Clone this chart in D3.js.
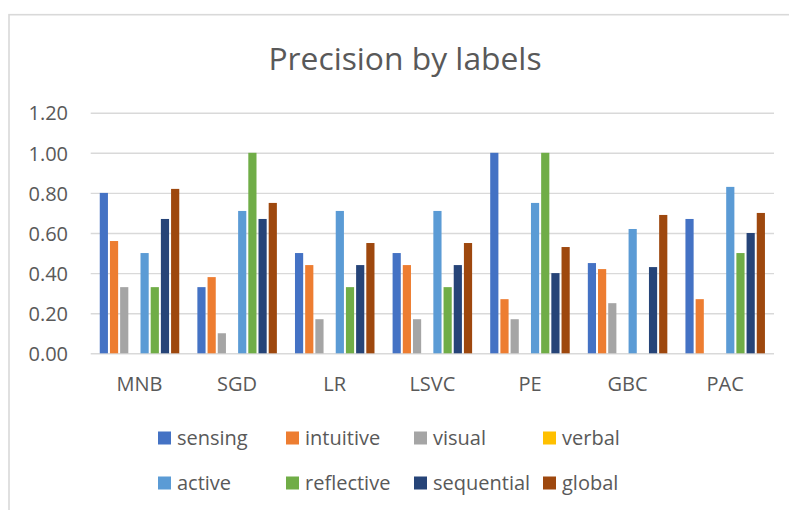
<!DOCTYPE html>
<html>
<head>
<meta charset="utf-8">
<script src="https://cdn.jsdelivr.net/npm/d3@7"></script>
<style>
  html, body { margin: 0; padding: 0; background: #fff; }
  svg { display: block; font-family: "Open Sans", "DejaVu Sans", sans-serif; }
</style>
</head>
<body>
<svg id="chart" width="789" height="510"></svg>
<script>
// Classifiers along the x axis
const models = ["MNB", "SGD", "LR", "LSVC", "PE", "GBC", "PAC"];

// Learning-style labels (one bar per label inside each classifier group)
const labels = ["sensing", "intuitive", "visual", "verbal", "active", "reflective", "sequential", "global"];
const labelColors = ["#4472C4", "#ED7D31", "#A5A5A5", "#FFC000", "#5B9BD5", "#70AD47", "#264478", "#9E480E"];

// Precision per label, one array per label, in the order of `models`
const sensing    = [0.80, 0.33, 0.50, 0.50, 1.00, 0.45, 0.67];
const intuitive  = [0.56, 0.38, 0.44, 0.44, 0.27, 0.42, 0.27];
const visual     = [0.33, 0.10, 0.17, 0.17, 0.17, 0.25, 0.00];
const verbal     = [0.00, 0.00, 0.00, 0.00, 0.00, 0.00, 0.00];
const active     = [0.50, 0.71, 0.71, 0.71, 0.75, 0.62, 0.83];
const reflective = [0.33, 1.00, 0.33, 0.33, 1.00, 0.00, 0.50];
const sequential = [0.67, 0.67, 0.44, 0.44, 0.40, 0.43, 0.60];
const global     = [0.82, 0.75, 0.55, 0.55, 0.53, 0.69, 0.70];

const yTicks = [0, 0.2, 0.4, 0.6, 0.8, 1.0, 1.2];

const seriesValues = [sensing, intuitive, visual, verbal, active, reflective, sequential, global];

const svg = d3.select("#chart");
const W = 789, H = 510;
const textColor = "#595959";
const gridColor = "#d9d9d9";

svg.append("rect").attr("width", W).attr("height", H).attr("fill", "#fff");

// chart-area frame
svg.append("rect")
  .attr("x", 9).attr("y", 14.7)
  .attr("width", W + 20).attr("height", H + 20)
  .attr("fill", "none")
  .attr("stroke", gridColor)
  .attr("stroke-width", 1.6);

const plot = { left: 90.7, right: 774, top: 112.7, bottom: 353.3 };

const x0 = d3.scaleBand()
  .domain(models)
  .range([plot.left, plot.right])
  .paddingInner(0.165)
  .paddingOuter(0.0825);

const x1 = d3.scaleBand()
  .domain(labels)
  .range([0, x0.bandwidth()]);

const y = d3.scaleLinear()
  .domain([0, 1.2])
  .range([plot.bottom, plot.top]);

const color = d3.scaleOrdinal().domain(labels).range(labelColors);

// Title
svg.append("text")
  .attr("x", 405)
  .attr("y", 70)
  .attr("text-anchor", "middle")
  .attr("fill", textColor)
  .attr("font-size", 31.8)
  .text("Precision by labels");

// Y axis with gridlines
const yAxis = d3.axisLeft(y)
  .tickValues(yTicks)
  .tickFormat(d3.format(".2f"))
  .tickSizeInner(-(plot.right - plot.left))
  .tickSizeOuter(0)
  .tickPadding(22.7);

const gy = svg.append("g")
  .attr("transform", `translate(${plot.left},0)`)
  .call(yAxis);
gy.select(".domain").remove();
gy.selectAll(".tick line")
  .attr("stroke", gridColor)
  .attr("stroke-width", 1.4);
gy.selectAll(".tick text")
  .attr("fill", textColor)
  .attr("font-size", 20)
  .attr("font-family", "Open Sans, sans-serif")
  .attr("dy", "0.36em");

// X axis labels
const xAxis = d3.axisBottom(x0).tickSize(0).tickPadding(24);
const gx = svg.append("g")
  .attr("transform", `translate(0,${plot.bottom})`)
  .call(xAxis);
gx.select(".domain").remove();
gx.selectAll(".tick text")
  .attr("fill", textColor)
  .attr("font-size", 20)
  .attr("font-family", "Open Sans, sans-serif");

// Bars
const rows = models.map((m, i) => ({
  model: m,
  values: labels.map((l, j) => ({ label: l, value: seriesValues[j][i] }))
}));

const groups = svg.append("g")
  .selectAll("g")
  .data(rows)
  .join("g")
  .attr("transform", d => `translate(${x0(d.model)},0)`);

groups.selectAll("rect")
  .data(d => d.values.filter(v => v.value > 0))
  .join("rect")
  .attr("x", d => x1(d.label) + 1)
  .attr("width", x1.bandwidth() - 2)
  .attr("y", d => y(d.value))
  .attr("height", d => y(0) - y(d.value))
  .attr("fill", d => color(d.label));

// Legend: two rows of four
const legendCols = [158, 286, 414, 543];
const legendRows = [438, 483];
const legend = svg.append("g")
  .selectAll("g")
  .data(labels)
  .join("g")
  .attr("transform", (d, i) => `translate(${legendCols[i % 4]},${legendRows[Math.floor(i / 4)]})`);

legend.append("rect")
  .attr("x", 0).attr("y", -6.5)
  .attr("width", 13).attr("height", 13)
  .attr("fill", d => color(d));

legend.append("text")
  .attr("x", 19)
  .attr("y", 0)
  .attr("dy", "0.36em")
  .attr("fill", textColor)
  .attr("font-size", 20)
  .text(d => d);
</script>
</body>
</html>
